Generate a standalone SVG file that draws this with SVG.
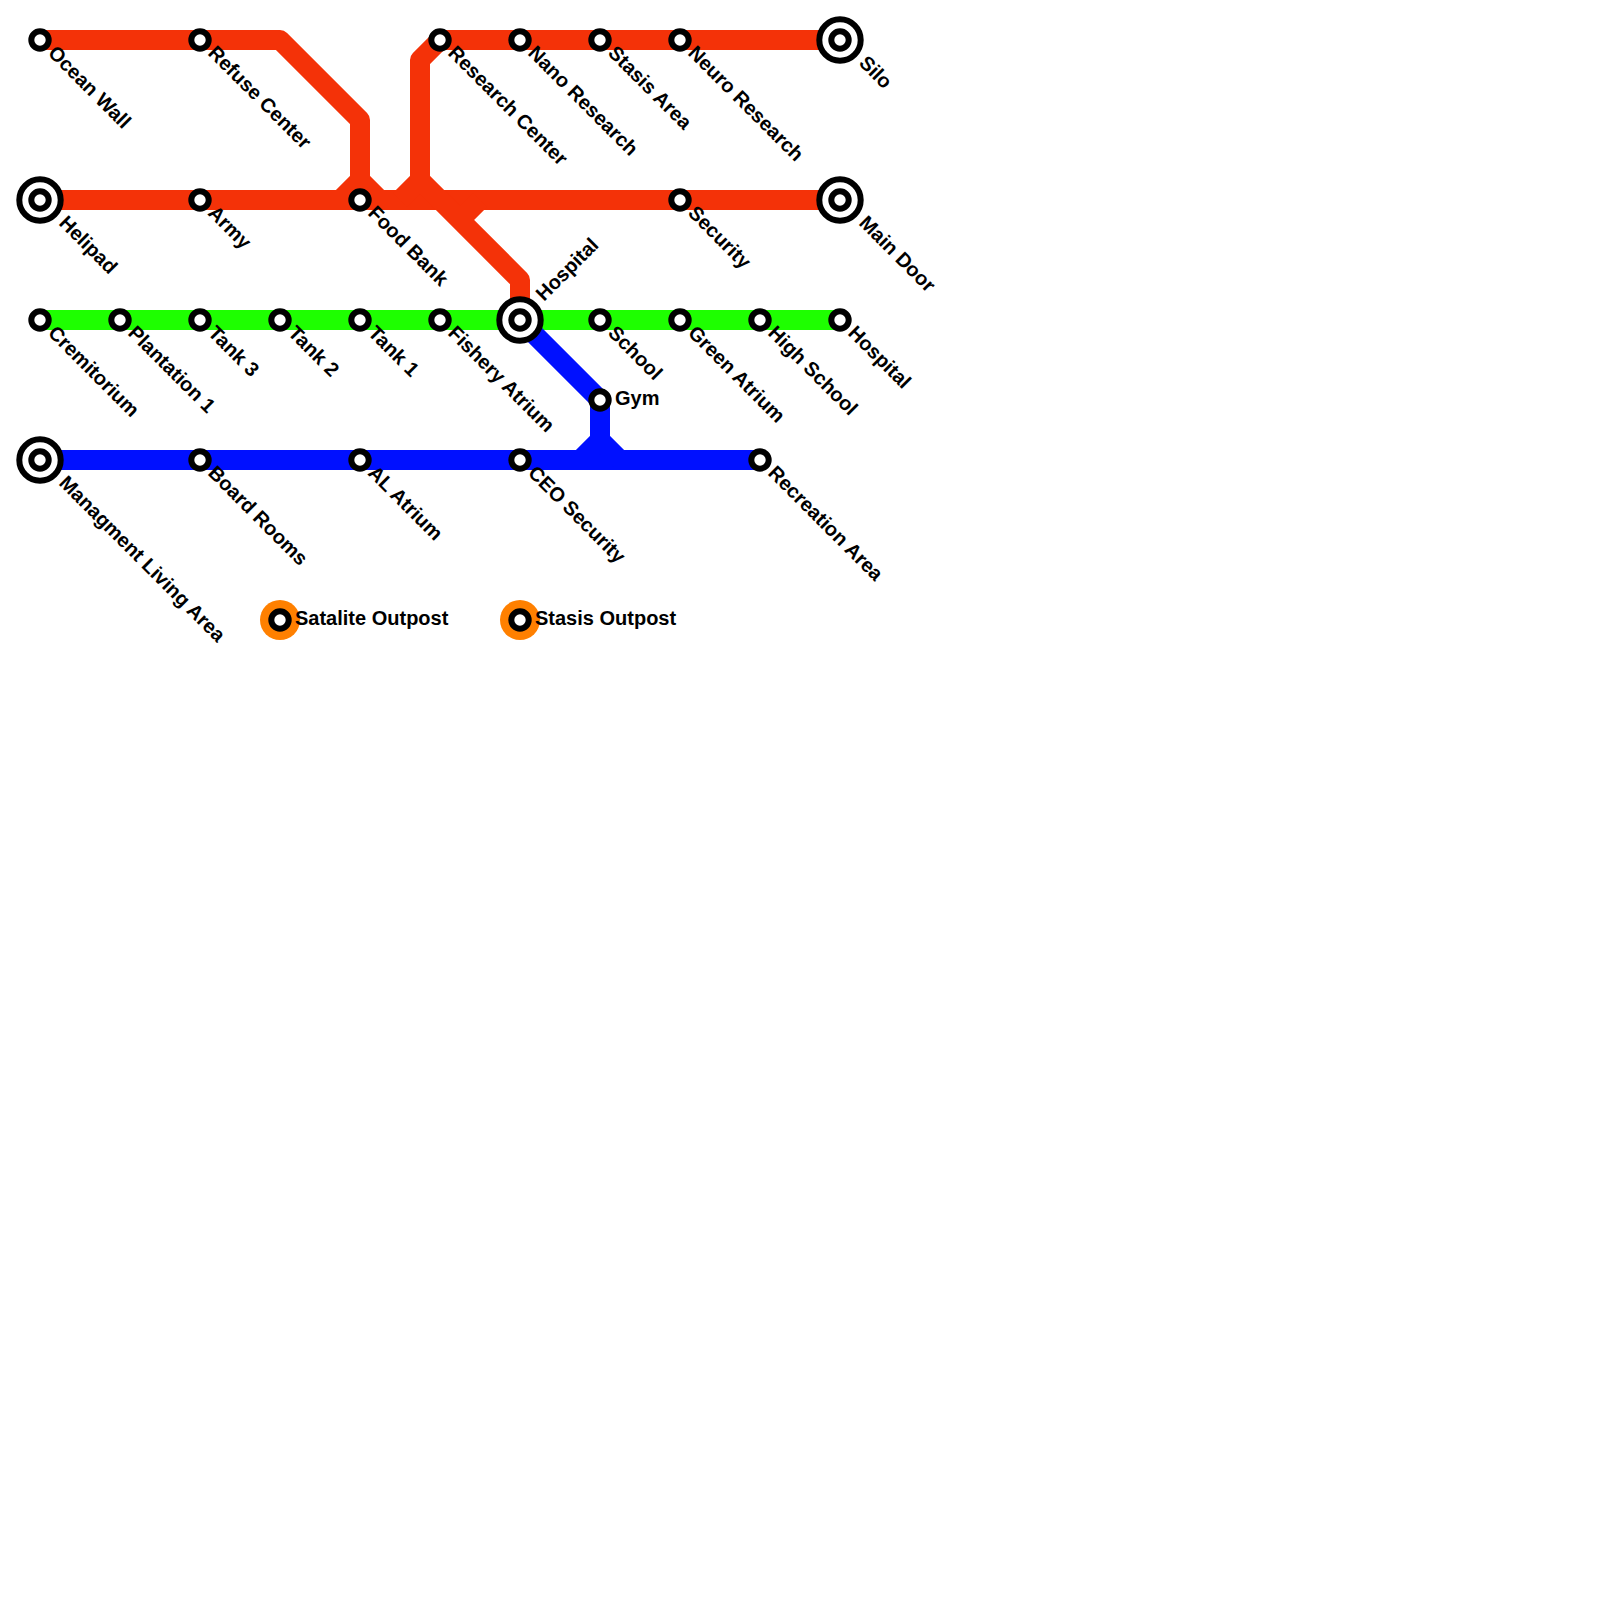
<svg xmlns="http://www.w3.org/2000/svg" width="1600" height="1600" viewBox="0 0 1600 1600">
<style>
.l{fill:none;stroke-width:20;stroke-linejoin:round}
.r{stroke:#f43208}.g{stroke:#1eff00}.b{stroke:#0010ff}
.s{fill:#fff;stroke:#000;stroke-width:6}
.o{fill:#ff8000}
text{font-family:"Liberation Sans",Arial,sans-serif;font-size:20px;font-weight:bold;fill:#000}
</style>
<defs>
<g id="st"><circle class="s" r="8.7"/></g>
<g id="ix"><circle class="s" r="20.7"/><circle class="s" r="8.7"/></g>
</defs>
<rect width="1600" height="1600" fill="#fff"/>
<g id="connectors">
<path class="l r" d="M40 40H280L360 120V180L340 200M360 180L380 200"/>
<path class="l r" d="M40 200H840"/>
<path class="l r" d="M440 40L420 60V180L400 200M420 180L520 280V320M480 200L460 220"/>
<path class="l r" d="M440 40H840"/>
<path class="l g" d="M40 320H840"/>
<path class="l b" d="M40 460H760"/>
<path class="l b" d="M520 320L600 400V440L580 460M600 440L620 460"/>
</g>
<g id="n-ocean-wall"><use href="#st" x="40" y="40"/><text transform="translate(47 54) rotate(45)">Ocean Wall</text></g>
<g id="n-refuse-center"><use href="#st" x="200" y="40"/><text transform="translate(207 54) rotate(45)">Refuse Center</text></g>
<g id="n-research-center"><use href="#st" x="440" y="40"/><text transform="translate(447 54) rotate(45)">Research Center</text></g>
<g id="n-nano-research"><use href="#st" x="520" y="40"/><text transform="translate(527 54) rotate(45)">Nano Research</text></g>
<g id="n-stasis-area"><use href="#st" x="600" y="40"/><text transform="translate(607 54) rotate(45)">Stasis Area</text></g>
<g id="n-neuro-research"><use href="#st" x="680" y="40"/><text transform="translate(687 54) rotate(45)">Neuro Research</text></g>
<g id="n-silo"><use href="#ix" x="840" y="40"/><text transform="translate(858 64) rotate(45)">Silo</text></g>
<g id="n-helipad"><use href="#ix" x="40" y="200"/><text transform="translate(58 224) rotate(45)">Helipad</text></g>
<g id="n-army"><use href="#st" x="200" y="200"/><text transform="translate(207 214) rotate(45)">Army</text></g>
<g id="n-food-bank"><use href="#st" x="360" y="200"/><text transform="translate(367 214) rotate(45)">Food Bank</text></g>
<g id="n-security"><use href="#st" x="680" y="200"/><text transform="translate(687 214) rotate(45)">Security</text></g>
<g id="n-main-door"><use href="#ix" x="840" y="200"/><text transform="translate(858 224) rotate(45)">Main Door</text></g>
<g id="n-cremitorium"><use href="#st" x="40" y="320"/><text transform="translate(47 334) rotate(45)">Cremitorium</text></g>
<g id="n-plantation-1"><use href="#st" x="120" y="320"/><text transform="translate(127 334) rotate(45)">Plantation 1</text></g>
<g id="n-tank-3"><use href="#st" x="200" y="320"/><text transform="translate(207 334) rotate(45)">Tank 3</text></g>
<g id="n-tank-2"><use href="#st" x="280" y="320"/><text transform="translate(287 334) rotate(45)">Tank 2</text></g>
<g id="n-tank-1"><use href="#st" x="360" y="320"/><text transform="translate(367 334) rotate(45)">Tank 1</text></g>
<g id="n-fishery-atrium"><use href="#st" x="440" y="320"/><text transform="translate(447 334) rotate(45)">Fishery Atrium</text></g>
<g id="n-hospital-a"><use href="#ix" x="520" y="320"/><text transform="translate(544 302) rotate(-45)">Hospital</text></g>
<g id="n-school"><use href="#st" x="600" y="320"/><text transform="translate(607 334) rotate(45)">School</text></g>
<g id="n-green-atrium"><use href="#st" x="680" y="320"/><text transform="translate(687 334) rotate(45)">Green Atrium</text></g>
<g id="n-high-school"><use href="#st" x="760" y="320"/><text transform="translate(767 334) rotate(45)">High School</text></g>
<g id="n-hospital-b"><use href="#st" x="840" y="320"/><text transform="translate(847 334) rotate(45)">Hospital</text></g>
<g id="n-gym"><use href="#st" x="600" y="400"/><text x="615" y="405">Gym</text></g>
<g id="n-managment"><use href="#ix" x="40" y="460"/><text transform="translate(58 484) rotate(45)">Managment Living Area</text></g>
<g id="n-board-rooms"><use href="#st" x="200" y="460"/><text transform="translate(207 474) rotate(45)">Board Rooms</text></g>
<g id="n-al-atrium"><use href="#st" x="360" y="460"/><text transform="translate(367 474) rotate(45)">AL Atrium</text></g>
<g id="n-ceo-security"><use href="#st" x="520" y="460"/><text transform="translate(527 474) rotate(45)">CEO Security</text></g>
<g id="n-recreation-area"><use href="#st" x="760" y="460"/><text transform="translate(767 474) rotate(45)">Recreation Area</text></g>
<g id="n-satalite"><circle class="o" cx="280" cy="620" r="20"/><use href="#st" x="280" y="620"/><text x="295" y="625">Satalite Outpost</text></g>
<g id="n-stasis"><circle class="o" cx="520" cy="620" r="20"/><use href="#st" x="520" y="620"/><text x="535" y="625">Stasis Outpost</text></g>
</svg>
